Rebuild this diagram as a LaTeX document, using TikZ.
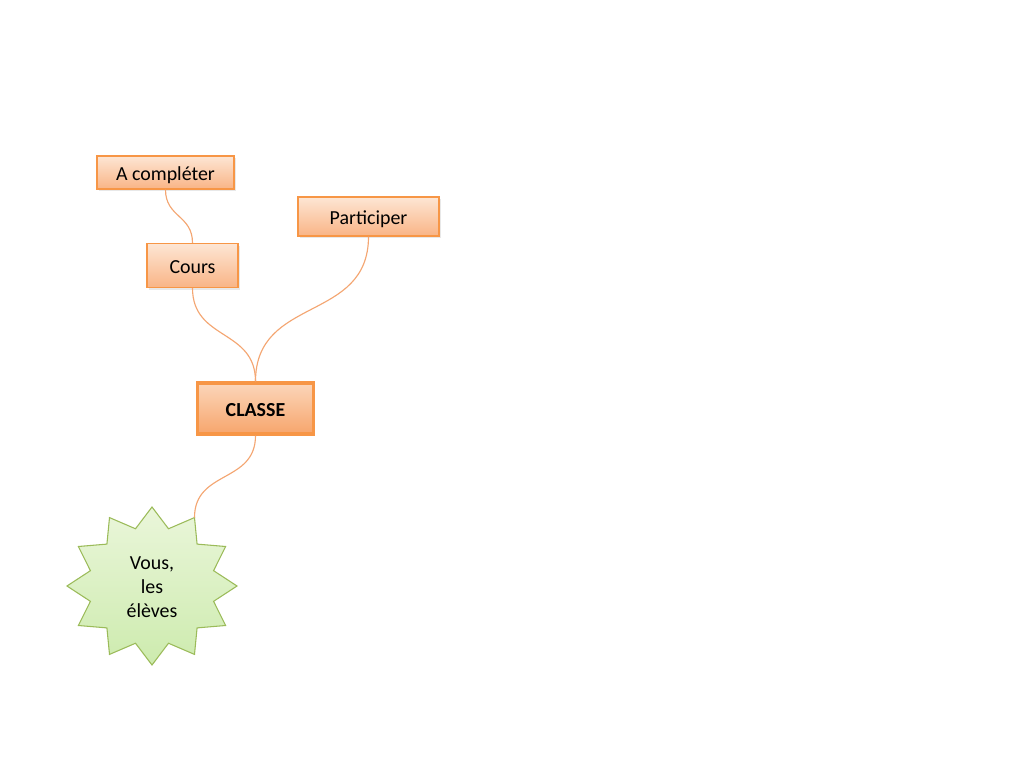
\documentclass[tikz,border=0pt]{standalone}
\usepackage{fontspec}
\setmainfont{Carlito}
\usetikzlibrary{shadows}
\newdimen\pxu \pxu=0.703125pt
\definecolor{orbord}{HTML}{F79646}
\definecolor{ortop}{HTML}{FDE6D4}
\definecolor{orbot}{HTML}{F9B486}
\definecolor{cltop}{HTML}{FBD6BA}
\definecolor{clbot}{HTML}{F7A56C}
\definecolor{conn}{HTML}{F4A672}
\definecolor{grbord}{HTML}{9BBB59}
\definecolor{grtop}{HTML}{EAF6DA}
\definecolor{grbot}{HTML}{CDEBAE}
\begin{document}
\begin{tikzpicture}[x=\pxu,y=-\pxu,
  font=\fontsize{14}{17}\selectfont,
  topic/.style={draw=orbord, line width=0.75pt, top color=ortop, bottom color=orbot,
    inner sep=0pt, align=center, text height=10.6pt, text depth=0pt,
    drop shadow={opacity=0.18, shadow xshift=1.2pt, shadow yshift=-1.5pt}},
  central/.style={topic, line width=2.2pt, top color=cltop, bottom color=clbot, font=\fontsize{14}{17}\selectfont\bfseries},
  burst/.style={draw=grbord, line width=0.75pt, top color=grtop, bottom color=grbot},
  link/.style={draw=conn, line width=0.8pt, looseness=1.2}]
\fill[white] (0,0) rectangle (1024,768);
\useasboundingbox (0,0) rectangle (1024,768);

\node[topic, minimum width=137*\pxu, minimum height=33*\pxu] (acomp) at (165.5,172.5) {A compléter};
\node[topic, minimum width=141*\pxu, minimum height=39*\pxu] (part) at (368.5,216.5) {Participer};
\node[topic, minimum width=91*\pxu, minimum height=44*\pxu] (cours) at (192.5,265.5) {Cours};
\node[central, minimum width=116*\pxu, minimum height=51*\pxu] (classe) at (255.5,408.5) {CLASSE};

% 12-point star
\draw[burst] plot[samples at={0,...,23}]
  ({152+85*(0.875+0.125*cos(180*\x))*cos(90-15*\x)},
   {586-79*(0.875+0.125*cos(180*\x))*sin(90-15*\x)}) -- cycle;
\coordinate (starpt) at ({152+85*cos(60)},{586-79*sin(60)});
\node[align=center, inner sep=0pt] (eleves) at (152,587) {Vous,\\les\\élèves};

\draw[link] (acomp.south) to[out=-90,in=90] (cours.north);
\draw[link] (cours.south) to[out=-90,in=90] (classe.north);
\draw[link] (part.south) to[out=-90,in=90] (classe.north);
\draw[link] (classe.south) to[out=-90,in=90] (starpt);
\end{tikzpicture}
\end{document}
